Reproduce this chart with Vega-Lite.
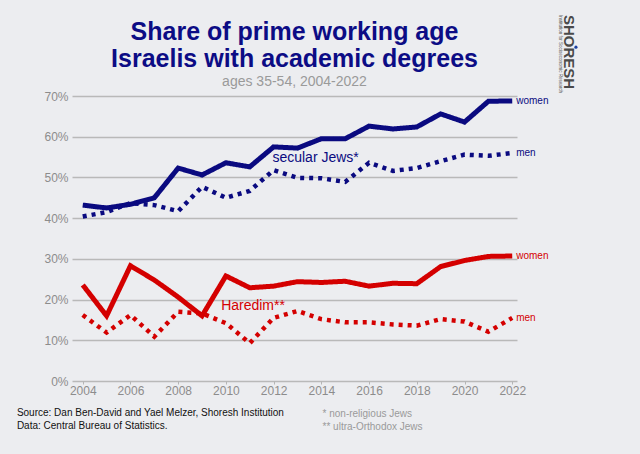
{
  "$schema": "https://vega.github.io/schema/vega-lite/v6.json",
  "width": 445,
  "height": 285,
  "autosize": {"type": "none"},
  "padding": {"left": 72, "top": 96, "right": 123, "bottom": 73},
  "background": "#ECEDF0",
  "config": {
    "font": "Liberation Sans",
    "view": {"stroke": null}
  },
  "title": {
    "text": ["Share of prime working age", "Israelis with academic degrees"],
    "subtitle": "ages 35-54, 2004-2022",
    "anchor": "middle",
    "frame": "group",
    "font": "Liberation Sans",
    "fontSize": 25,
    "fontWeight": "bold",
    "color": "#0c0c85",
    "lineHeight": 27,
    "subtitleFont": "Liberation Sans",
    "subtitleFontSize": 14,
    "subtitleColor": "#9a9a9a",
    "subtitlePadding": 3,
    "offset": -74
  },
  "datasets": {
    "series": [
      {"year": 2004, "group": "secular", "sex": "women", "value": 43.2},
      {"year": 2005, "group": "secular", "sex": "women", "value": 42.5},
      {"year": 2006, "group": "secular", "sex": "women", "value": 43.4},
      {"year": 2007, "group": "secular", "sex": "women", "value": 45.0},
      {"year": 2008, "group": "secular", "sex": "women", "value": 52.3},
      {"year": 2009, "group": "secular", "sex": "women", "value": 50.6},
      {"year": 2010, "group": "secular", "sex": "women", "value": 53.6},
      {"year": 2011, "group": "secular", "sex": "women", "value": 52.6},
      {"year": 2012, "group": "secular", "sex": "women", "value": 57.5},
      {"year": 2013, "group": "secular", "sex": "women", "value": 57.2},
      {"year": 2014, "group": "secular", "sex": "women", "value": 59.5},
      {"year": 2015, "group": "secular", "sex": "women", "value": 59.5},
      {"year": 2016, "group": "secular", "sex": "women", "value": 62.6},
      {"year": 2017, "group": "secular", "sex": "women", "value": 61.9},
      {"year": 2018, "group": "secular", "sex": "women", "value": 62.4},
      {"year": 2019, "group": "secular", "sex": "women", "value": 65.6},
      {"year": 2020, "group": "secular", "sex": "women", "value": 63.6},
      {"year": 2021, "group": "secular", "sex": "women", "value": 68.7},
      {"year": 2022, "group": "secular", "sex": "women", "value": 68.8},
      {"year": 2004, "group": "secular", "sex": "men", "value": 40.4},
      {"year": 2005, "group": "secular", "sex": "men", "value": 41.5},
      {"year": 2006, "group": "secular", "sex": "men", "value": 43.7},
      {"year": 2007, "group": "secular", "sex": "men", "value": 43.2},
      {"year": 2008, "group": "secular", "sex": "men", "value": 41.7},
      {"year": 2009, "group": "secular", "sex": "men", "value": 47.7},
      {"year": 2010, "group": "secular", "sex": "men", "value": 45.0},
      {"year": 2011, "group": "secular", "sex": "men", "value": 46.7},
      {"year": 2012, "group": "secular", "sex": "men", "value": 51.8},
      {"year": 2013, "group": "secular", "sex": "men", "value": 49.9},
      {"year": 2014, "group": "secular", "sex": "men", "value": 49.8},
      {"year": 2015, "group": "secular", "sex": "men", "value": 48.9},
      {"year": 2016, "group": "secular", "sex": "men", "value": 53.6},
      {"year": 2017, "group": "secular", "sex": "men", "value": 51.6},
      {"year": 2018, "group": "secular", "sex": "men", "value": 52.3},
      {"year": 2019, "group": "secular", "sex": "men", "value": 54.0},
      {"year": 2020, "group": "secular", "sex": "men", "value": 55.6},
      {"year": 2021, "group": "secular", "sex": "men", "value": 55.3},
      {"year": 2022, "group": "secular", "sex": "men", "value": 56.0},
      {"year": 2004, "group": "haredi", "sex": "women", "value": 23.6},
      {"year": 2005, "group": "haredi", "sex": "women", "value": 16.0},
      {"year": 2006, "group": "haredi", "sex": "women", "value": 28.3},
      {"year": 2007, "group": "haredi", "sex": "women", "value": 24.8},
      {"year": 2008, "group": "haredi", "sex": "women", "value": 20.6},
      {"year": 2009, "group": "haredi", "sex": "women", "value": 16.0},
      {"year": 2010, "group": "haredi", "sex": "women", "value": 25.8},
      {"year": 2011, "group": "haredi", "sex": "women", "value": 22.9},
      {"year": 2012, "group": "haredi", "sex": "women", "value": 23.3},
      {"year": 2013, "group": "haredi", "sex": "women", "value": 24.4},
      {"year": 2014, "group": "haredi", "sex": "women", "value": 24.2},
      {"year": 2015, "group": "haredi", "sex": "women", "value": 24.5},
      {"year": 2016, "group": "haredi", "sex": "women", "value": 23.3},
      {"year": 2017, "group": "haredi", "sex": "women", "value": 24.0},
      {"year": 2018, "group": "haredi", "sex": "women", "value": 23.9},
      {"year": 2019, "group": "haredi", "sex": "women", "value": 28.1},
      {"year": 2020, "group": "haredi", "sex": "women", "value": 29.6},
      {"year": 2021, "group": "haredi", "sex": "women", "value": 30.6},
      {"year": 2022, "group": "haredi", "sex": "women", "value": 30.7},
      {"year": 2004, "group": "haredi", "sex": "men", "value": 16.2},
      {"year": 2005, "group": "haredi", "sex": "men", "value": 11.9},
      {"year": 2006, "group": "haredi", "sex": "men", "value": 16.2},
      {"year": 2007, "group": "haredi", "sex": "men", "value": 10.9},
      {"year": 2008, "group": "haredi", "sex": "men", "value": 17.0},
      {"year": 2009, "group": "haredi", "sex": "men", "value": 16.6},
      {"year": 2010, "group": "haredi", "sex": "men", "value": 14.2},
      {"year": 2011, "group": "haredi", "sex": "men", "value": 9.3},
      {"year": 2012, "group": "haredi", "sex": "men", "value": 15.5},
      {"year": 2013, "group": "haredi", "sex": "men", "value": 17.2},
      {"year": 2014, "group": "haredi", "sex": "men", "value": 15.2},
      {"year": 2015, "group": "haredi", "sex": "men", "value": 14.4},
      {"year": 2016, "group": "haredi", "sex": "men", "value": 14.4},
      {"year": 2017, "group": "haredi", "sex": "men", "value": 13.9},
      {"year": 2018, "group": "haredi", "sex": "men", "value": 13.6},
      {"year": 2019, "group": "haredi", "sex": "men", "value": 15.2},
      {"year": 2020, "group": "haredi", "sex": "men", "value": 14.6},
      {"year": 2021, "group": "haredi", "sex": "men", "value": 12.1},
      {"year": 2022, "group": "haredi", "sex": "men", "value": 15.5}
    ],
    "endLabels": [
      {"year": 2022, "value": 68.8, "group": "secular", "text": "women"},
      {"year": 2022, "value": 56.0, "group": "secular", "text": "men"},
      {"year": 2022, "value": 30.7, "group": "haredi", "text": "women"},
      {"year": 2022, "value": 15.5, "group": "haredi", "text": "men"}
    ],
    "groupLabels": [
      {"year": 2011.95, "value": 54.8, "group": "secular", "text": "secular Jews*"},
      {"year": 2009.8, "value": 18.4, "group": "haredi", "text": "Haredim**"}
    ],
    "source": [
      {"year": 2001.24, "value": -7.9, "text": "Source: Dan Ben-David and Yael Melzer, Shoresh Institution"},
      {"year": 2001.24, "value": -11.0, "text": "Data: Central Bureau of Statistics."}
    ],
    "notes": [
      {"year": 2014.05, "value": -8.2, "text": "* non-religious Jews"},
      {"year": 2014.05, "value": -11.4, "text": "** ultra-Orthodox Jews"}
    ],
    "logo": [
      {"year": 2024.4, "value": 80.8, "text": "SHORESH"}
    ],
    "logoSub": [
      {"year": 2024.0, "value": 80.3, "text": "Institution for Socioeconomic Research"}
    ],
    "logoDot": [
      {"year": 2024.67, "value": 82.0}
    ]
  },
  "encoding": {
    "x": {
      "field": "year",
      "type": "quantitative",
      "scale": {"domain": [2003.55, 2022.2], "nice": false, "zero": false},
      "axis": {
        "values": [2004, 2006, 2008, 2010, 2012, 2014, 2016, 2018, 2020, 2022],
        "format": "d",
        "title": null,
        "grid": false,
        "domain": false,
        "ticks": true,
        "tickSize": 3,
        "tickColor": "#b5b5b5",
        "labelColor": "#8c8c8c",
        "labelFontSize": 12,
        "labelPadding": 1,
        "labelFlush": false
      }
    },
    "y": {
      "field": "value",
      "type": "quantitative",
      "scale": {"domain": [0, 70], "nice": false},
      "axis": {
        "values": [0, 10, 20, 30, 40, 50, 60, 70],
        "labelExpr": "datum.value + '%'",
        "title": null,
        "grid": true,
        "gridColor": "#b9b9b9",
        "gridWidth": 1.5,
        "domain": false,
        "ticks": false,
        "labelColor": "#8c8c8c",
        "labelFontSize": 12,
        "labelPadding": 4
      }
    }
  },
  "layer": [
    {
      "data": {"name": "series"},
      "mark": {"type": "line", "strokeCap": "butt", "strokeJoin": "miter"},
      "encoding": {
        "color": {
          "field": "group",
          "type": "nominal",
          "scale": {"domain": ["secular", "haredi"], "range": ["#0a0a80", "#d40000"]},
          "legend": null
        },
        "strokeDash": {
          "field": "sex",
          "type": "nominal",
          "scale": {"domain": ["women", "men"], "range": [[1, 0], [4, 5]]},
          "legend": null
        },
        "strokeWidth": {
          "field": "sex",
          "type": "nominal",
          "scale": {"domain": ["women", "men"], "range": [5, 4.5]},
          "legend": null
        }
      }
    },
    {
      "data": {"name": "endLabels"},
      "mark": {"type": "text", "align": "left", "baseline": "middle", "dx": 4, "fontSize": 10},
      "encoding": {
        "text": {"field": "text"},
        "color": {"field": "group", "type": "nominal", "legend": null}
      }
    },
    {
      "data": {"name": "groupLabels"},
      "mark": {"type": "text", "align": "left", "baseline": "middle", "fontSize": 14},
      "encoding": {
        "text": {"field": "text"},
        "color": {"field": "group", "type": "nominal", "legend": null}
      }
    },
    {
      "data": {"name": "source"},
      "mark": {"type": "text", "align": "left", "baseline": "middle", "fontSize": 10, "color": "#111111"},
      "encoding": {"text": {"field": "text"}}
    },
    {
      "data": {"name": "notes"},
      "mark": {"type": "text", "align": "left", "baseline": "middle", "fontSize": 10, "color": "#9a9a9a"},
      "encoding": {"text": {"field": "text"}}
    },
    {
      "data": {"name": "logo"},
      "mark": {"type": "text", "align": "center", "baseline": "middle", "angle": 90, "fontSize": 15, "fontWeight": "bold", "color": "#4a4a4a"},
      "encoding": {"text": {"field": "text"}}
    },
    {
      "data": {"name": "logoSub"},
      "mark": {"type": "text", "align": "center", "baseline": "middle", "angle": 90, "fontSize": 4.5, "color": "#555555"},
      "encoding": {"text": {"field": "text"}}
    },
    {
      "data": {"name": "logoDot"},
      "mark": {"type": "circle", "size": 10, "opacity": 1, "color": "#1a3fa0"},
      "encoding": {}
    }
  ]
}
